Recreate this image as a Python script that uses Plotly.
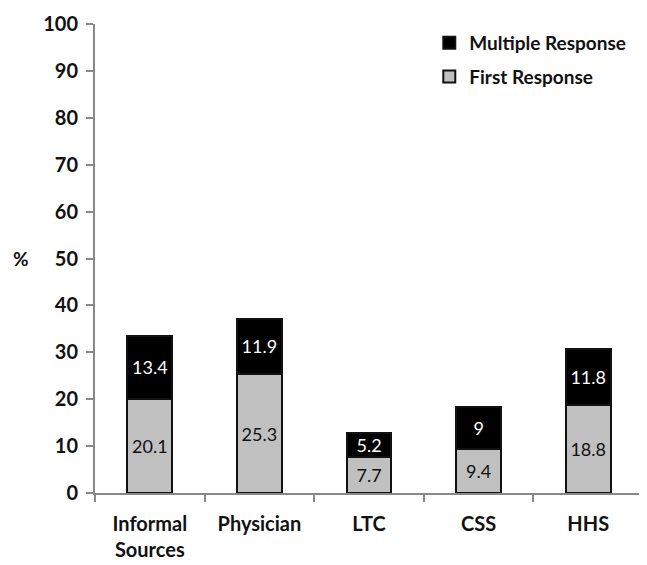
import plotly.graph_objects as go

categories = ["Informal<br>Sources", "Physician", "LTC", "CSS", "HHS"]
first_response = [20.1, 25.3, 7.7, 9.4, 18.8]
multiple_response = [13.4, 11.9, 5.2, 9, 11.8]
y_ticks = [0, 10, 20, 30, 40, 50, 60, 70, 80, 90, 100]

FONT = "Lato"

fig = go.Figure()
fig.add_trace(go.Bar(
    x=categories, y=first_response, name="First Response",
    legendgroup="first", legendrank=2,
    marker=dict(color="#c0c0c0", line=dict(color="#111111", width=2)),
    text=[str(v) for v in first_response], textposition="inside",
    insidetextanchor="middle", textangle=0, constraintext="none",
    textfont=dict(color="#111111", size=18, family=FONT),
    width=0.41,
))
fig.add_trace(go.Bar(
    x=categories, y=multiple_response, name="Multiple Response",
    legendgroup="multiple", legendrank=1,
    marker=dict(color="#000000", line=dict(color="#111111", width=2)),
    text=[str(v) for v in multiple_response], textposition="inside",
    insidetextanchor="middle", textangle=0, constraintext="none",
    textfont=dict(color="#ffffff", size=18, family=FONT),
    width=0.41,
))

fig.update_layout(
    barmode="stack",
    width=647, height=565,
    margin=dict(l=87, r=12, t=16, b=80, autoexpand=False),
    paper_bgcolor="white", plot_bgcolor="white",
    font=dict(family=FONT, size=19, color="#111111"),
    uniformtext=dict(mode="show", minsize=10),
    showlegend=True,
    legend=dict(
        x=0.61, y=1.0, xanchor="left", yanchor="top",
        traceorder="grouped",
        font=dict(family=FONT, size=19, color="#111111", weight="bold"),
        itemwidth=30, tracegroupgap=6,
        bgcolor="rgba(0,0,0,0)",
    ),
    xaxis=dict(
        showline=True, linecolor="#888888", linewidth=2,
        ticks="outside", tickson="boundaries", ticklen=7,
        tickcolor="#888888", tickwidth=2, ticklabelstandoff=12,
        tickfont=dict(family=FONT, size=20, color="#111111", weight="bold"),
        showgrid=False, automargin=False,
    ),
    yaxis=dict(
        range=[0, 100], tickvals=y_ticks,
        showline=True, linecolor="#888888", linewidth=2,
        ticks="outside", ticklen=7, tickcolor="#888888", tickwidth=2,
        ticklabelstandoff=4,
        tickfont=dict(family=FONT, size=20, color="#111111", weight="bold"),
        showgrid=False, zeroline=False, automargin=False,
    ),
    annotations=[dict(
        text="%", xref="paper", yref="paper", x=-0.135, y=0.5,
        showarrow=False, xanchor="center", yanchor="middle",
        font=dict(family=FONT, size=19, color="#111111", weight="bold"),
    )],
)

fig.write_html("out.html")
